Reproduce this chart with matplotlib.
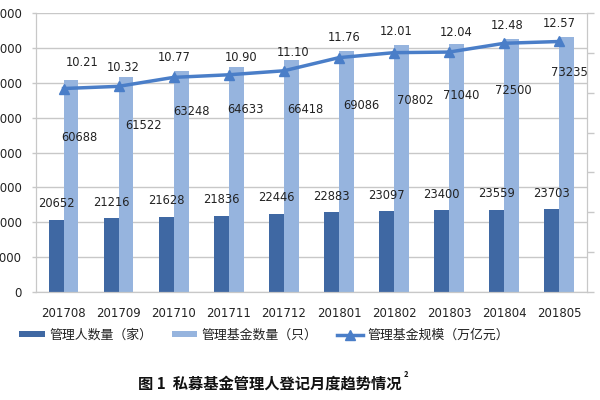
import matplotlib
matplotlib.use("Agg")
import matplotlib.pyplot as plt
import numpy as np

plt.rcParams['font.family'] = ['DejaVu Sans', 'Noto Sans CJK SC']

months = ["201708", "201709", "201710", "201711", "201712",
          "201801", "201802", "201803", "201804", "201805"]
managers = [20652, 21216, 21628, 21836, 22446, 22883, 23097, 23400, 23559, 23703]
funds = [60688, 61522, 63248, 64633, 66418, 69086, 70802, 71040, 72500, 73235]
scale = [10.21, 10.32, 10.77, 10.90, 11.10, 11.76, 12.01, 12.04, 12.48, 12.57]
left_ticks = [0, 10000, 20000, 30000, 40000, 50000, 60000, 70000, 80000]
right_ticks = [0, 2, 4, 6, 8, 10, 12, 14]

legend_labels = ["管理人数量（家）", "管理基金数量（只）", "管理基金规模（万亿元）"]
title = "图 1  私募基金管理人登记月度趋势情况"
title_sup = "2"

# label offsets in pixels (style only)
fund_off = [(8, -57), (18, -48), (10, -40), (9, -43), (14, -49),
            (15, -54), (14, -55), (5, -51), (2, -51), (3, -36)]
scale_off = [(19, 26), (5, 19), (1, 20), (12, 17), (9, 18),
             (5, 20), (2, 21), (7, 20), (3, 18), (0, 18)]

dark = "#3F68A3"
light = "#96B4DE"
linec = "#4A7EC8"
grid = "#C8C8C8"

fig = plt.figure(figsize=(6, 4), dpi=100)
ax = fig.add_axes([0.06, 0.27, 0.918, 0.6975])
ax2 = ax.twinx()

x = np.arange(len(months))
w = 0.27
b1 = ax.bar(x - w / 2, managers, w, color=dark, zorder=2)
b2 = ax.bar(x + w / 2, funds, w, color=light, zorder=2)

ax.set_ylim(0, 80000)
ax.set_xlim(-0.5, len(months) - 0.5)
ax.set_yticks(left_ticks)
ax.set_yticklabels([str(t) for t in left_ticks])
ax.set_xticks(x)
ax.set_xticklabels(months)
ax.yaxis.grid(True, color=grid, linewidth=1, zorder=0)
ax.set_axisbelow(True)
ax.tick_params(axis='y', length=3, width=1, color=grid, pad=7, labelsize=8.5, labelcolor="#222222")
ax.tick_params(axis='x', length=0, pad=11, labelsize=8.5, labelcolor="#222222")
ax.spines["top"].set_visible(False)
for s in ["left", "bottom", "right"]:
    ax.spines[s].set_color(grid)
ax2.spines["top"].set_visible(False)
for s in ["left", "bottom", "right"]:
    ax2.spines[s].set_color(grid)

ax2.set_ylim(0, 14)
ax2.set_yticks(right_ticks)
ax2.tick_params(axis='y', length=5, width=1, color=grid, labelright=False)
ln, = ax2.plot(x, scale, color=linec, linewidth=2.5, marker="^", markersize=7,
               markeredgecolor=linec, markerfacecolor=linec, zorder=5)

px = 72.0 / fig.dpi
for i in range(len(months)):
    ax.annotate(str(managers[i]), (x[i] - w / 2, managers[i]),
                xytext=(0, 16 * px), textcoords="offset points",
                ha="center", va="center", fontsize=8.3, color="#222222")
    dx, dy = fund_off[i]
    ax.annotate(str(funds[i]), (x[i] + w / 2, funds[i]),
                xytext=(dx * px, dy * px), textcoords="offset points",
                ha="center", va="center", fontsize=8.3, color="#222222", zorder=6)
    dx, dy = scale_off[i]
    ax2.annotate("%.2f" % scale[i], (x[i], scale[i]),
                 xytext=(dx * px, dy * px), textcoords="offset points",
                 ha="center", va="center", fontsize=8.3, color="#222222")

leg = fig.legend([b1, b2, ln], legend_labels, loc="center", bbox_to_anchor=(0.44, 0.162),
                 ncol=3, frameon=False, handlelength=2.0, handleheight=0.35,
                 columnspacing=1.5, handletextpad=0.35,
                 prop={'family': ['Noto Sans CJK SC'], 'size': 9.3})
for t in leg.get_texts():
    t.set_color("#222222")

fig.text(0.449, 0.041, title, ha="center", va="center", fontsize=11, fontweight="bold",
         family=['Noto Sans CJK SC'], color="#111111")
fig.text(0.672, 0.064, title_sup, ha="left", va="center", fontsize=5.5, fontweight="bold",
         family=['Noto Sans CJK SC'], color="#111111")

fig.savefig("out.png", dpi=100, facecolor="white")
